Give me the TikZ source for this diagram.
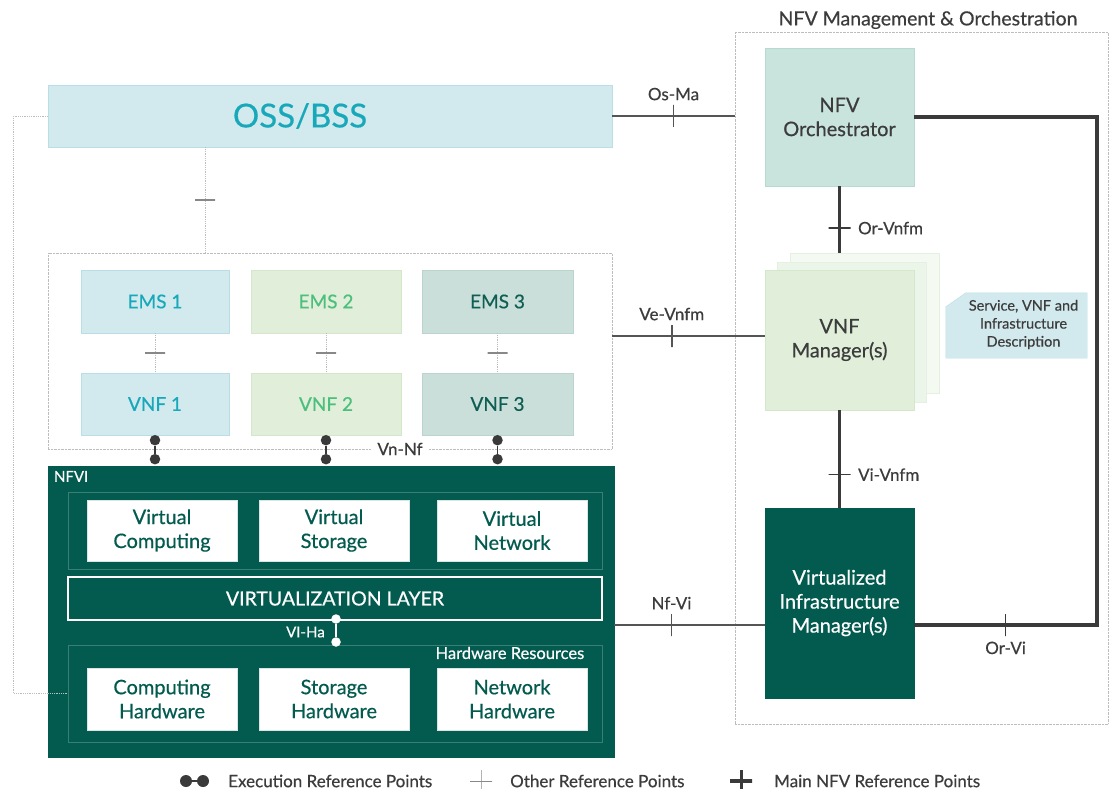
\documentclass[tikz,border=0pt]{standalone}
\usepackage{fontspec}
\setmainfont{Lato}[FakeBold=0.5]
\usetikzlibrary{calc,positioning}

\definecolor{NfviGreen}{HTML}{035B4F}
\definecolor{OssBlue}{HTML}{D2EAEE}
\definecolor{OssEdge}{HTML}{B8DFE6}
\definecolor{OssText}{HTML}{17A9BA}
\definecolor{VnfGreen}{HTML}{E0EEDA}
\definecolor{VnfEdge}{HTML}{D3E7CB}
\definecolor{VnfText}{HTML}{4CBF7D}
\definecolor{EmsTeal}{HTML}{CADFD9}
\definecolor{EmsEdge}{HTML}{BBD5CE}
\definecolor{EmsText}{HTML}{0F5E54}
\definecolor{OrchFill}{HTML}{C8E4DD}
\definecolor{OrchEdge}{HTML}{B6D9D0}
\definecolor{LineGray}{HTML}{555555}
\definecolor{MainLine}{HTML}{3A3A3A}
\definecolor{DotGray}{HTML}{BDBDBD}
\definecolor{TextGray}{HTML}{3C3C3C}

\newcommand{\pxfont}[2]{\fontsize{#1}{#2}\selectfont}

\tikzset{
  px/.style 2 args={minimum width=#1pt, minimum height=#2pt},
  plainbox/.style={rectangle, inner sep=0pt, align=center},
  ossbox/.style={plainbox, fill=OssBlue, draw=OssEdge, text=OssText, font=\pxfont{19}{24}},
  greenbox/.style={plainbox, fill=VnfGreen, draw=VnfEdge, text=VnfText, font=\pxfont{19}{24}},
  tealbox/.style={plainbox, fill=EmsTeal, draw=EmsEdge, text=EmsText, font=\pxfont{19}{24}},
  whitebox/.style={plainbox, fill=white, draw=white!85!NfviGreen, text=NfviGreen, font=\pxfont{20}{24}},
  groupbox/.style={plainbox, draw=DotGray, densely dotted},
  innerbox/.style={plainbox, draw=white!22!NfviGreen, line width=0.8pt},
  darkbox/.style={plainbox, fill=NfviGreen, draw=NfviGreen, text=white, font=\pxfont{20}{24}},
  pagebox/.style={plainbox, draw=VnfEdge!60},
  lbl/.style={inner sep=1pt, text=TextGray, font=\pxfont{17}{20}},
  refline/.style={draw=LineGray, line width=1.8pt},
  mainline/.style={draw=MainLine, line width=3.6pt},
  dotline/.style={draw=DotGray, densely dotted, line width=0.8pt},
  vtick/.style={draw=#1, solid, line width=1.6pt, minimum width=0pt, minimum height=22pt, inner sep=0pt, shape=rectangle},
  htick/.style={draw=#1, solid, line width=1.6pt, minimum width=22pt, minimum height=0pt, inner sep=0pt, shape=rectangle},
  xdot/.style={circle, fill=#1, inner sep=0pt, minimum size=10.5pt},
}

\begin{document}
\begin{tikzpicture}[x=1pt, y=-1pt]
\useasboundingbox (0,0) rectangle (1110,789);

% management & orchestration frame
\node[groupbox, px={373}{692}] (mano) at (921.5,378) {};
\node[lbl, font=\pxfont{19.5}{22}] (manolbl) at (928,20) {NFV Management \& Orchestration};

% OSS/BSS
\node[ossbox, px={564}{62}] (oss) at (330,116) {};
\node[text=OssText, font=\pxfont{33}{36}] (osslbl) at (300,116) {OSS/BSS};

% EMS / VNF group
\node[groupbox, px={564}{196}] (vnfgroup) at (330,351) {};
\node[ossbox, px={148}{63}] (ems1) at (155,301.5) {EMS 1};
\node[greenbox, px={150}{63}] (ems2) at (326,301.5) {EMS 2};
\node[tealbox, px={151}{63}] (ems3) at (497.5,301.5) {EMS 3};
\node[ossbox, px={148}{62}] (vnf1) at (155,404) {VNF 1};
\node[greenbox, px={150}{62}] (vnf2) at (326,404) {VNF 2};
\node[tealbox, px={151}{62}] (vnf3) at (497.5,404) {VNF 3};

\foreach \i in {1,2,3}{
  \draw[dotline] (ems\i.south) -- (vnf\i.north) node[htick=LineGray!70, midway, line width=1.2pt, minimum width=20pt] {};
}

% NFVI
\node[darkbox, px={566}{291}] (nfvi) at (331,611.5) {};
\node[anchor=north west, inner sep=0pt, text=white, font=\pxfont{15}{17}] (nfvilbl) at ($(nfvi.north west)+(6,5)$) {NFVI};
\node[innerbox, px={534}{77}] (virtbox) at (335,530.5) {};
\node[whitebox, px={150}{61}] (vcomp) at (162,530.5) {Virtual\\Computing};
\node[whitebox, px={150}{61}] (vstor) at (334,530.5) {Virtual\\Storage};
\node[whitebox, px={150}{61}] (vnet) at (512,530.5) {Virtual\\Network};
\node[darkbox, px={534}{43}, draw=white, line width=1.4pt, font=\pxfont{19.5}{22}] (vlayer) at (335,598.5) {VIRTUALIZATION LAYER};
\node[innerbox, px={534}{97}] (hwbox) at (335,693.5) {};
\node[anchor=north east, inner sep=0pt, text=white, font=\pxfont{16.5}{18}] (hwlbl) at ($(hwbox.north east)+(-18,2)$) {Hardware Resources};
\node[whitebox, px={150}{62}] (chw) at (162,699) {Computing\\Hardware};
\node[whitebox, px={150}{62}] (shw) at (334,699) {Storage\\Hardware};
\node[whitebox, px={150}{62}] (nhw) at (512,699) {Network\\Hardware};

% VI-Ha
\node[xdot=white, minimum size=9.5pt] (viha1) at (336,619) {};
\node[xdot=white, minimum size=9.5pt] (viha2) at (336,642) {};
\draw[white, line width=1.6pt] (viha1) -- (viha2);
\node[anchor=east, inner sep=0pt, text=white, font=\pxfont{15}{17}] (vihalbl) at (325,632) {VI-Ha};

% Vn-Nf execution points
\node[lbl, fill=white, inner xsep=6pt] (vnnf) at (400,449) {Vn-Nf};
\foreach \i in {1,2,3}{
  \node[xdot=MainLine] (exa\i) at ($(vnf\i.south)+(0,5)$) {};
  \node[xdot=MainLine] (exb\i) at ($(vnf\i.south)+(0,24)$) {};
  \draw[MainLine, line width=1.8pt] (exa\i) -- (exb\i);
}

% OSS links
\draw[dotline] ($(oss.south)+(-125,0)$) -- ($(vnfgroup.north)+(-125,0)$)
  node[htick=LineGray!70, midway, line width=1.2pt, minimum width=20pt] {};
\draw[dotline] (oss.west) -- ++(-34,0) |- (hwbox.west);

% MANO blocks
\node[plainbox, px={149}{138}, fill=OrchFill, draw=OrchEdge, text=TextGray, font=\pxfont{20}{24}] (orch) at (839.5,117) {NFV\\Orchestrator};

\draw[mainline] (orch.south) -- (839.5,270)
  node[htick=MainLine, midway] (orvnfmtick) {}
  node[lbl, anchor=west, right=4pt of orvnfmtick] {Or-Vnfm};

\node[pagebox, px={149}{140}, fill=VnfGreen!35] (page2) at (864.5,323) {};
\node[pagebox, px={149}{140}, fill=VnfGreen!60] (page1) at (852,332) {};
\node[plainbox, px={149}{140}, fill=VnfGreen, draw=VnfEdge, text=TextGray, font=\pxfont{20}{24}] (vnfm) at (839.5,340) {VNF\\Manager(s)};

\node[darkbox, px={149}{190}] (vim) at (839.5,603) {Virtualized\\Infrastructure\\Manager(s)};

% descriptor
\node[plainbox, px={141}{65}] (desc) at (1016.5,325.5) {};
\fill[OssBlue, draw=OssEdge] (desc.south west) -- ($(desc.north west)+(0,14)$) -- ($(desc.north west)+(20,0)$)
  -- (desc.north east) -- (desc.south east) -- cycle;
\node[plainbox, text=TextGray, font=\pxfont{14.5}{18}] (desctxt) at ($(desc.center)+(7,-1)$) {Service, VNF and\\Infrastructure\\Description};

% reference points
\coordinate (vevnfm) at ($(vnfm.west)+(0,-4)$);
\coordinate (nfvi-vim) at ($(vim.west)+(0,22)$);
\coordinate (orvi) at ($(vim.east)+(0,22)$);

\draw[refline] (oss.east) -- (oss.east -| mano.west)
  node[vtick=LineGray, midway] (osmatick) {}
  node[lbl, above=2pt of osmatick] {Os-Ma};

\draw[refline] (vevnfm -| vnfgroup.east) -- (vevnfm)
  node[vtick=LineGray, pos=.39] (vevnfmtick) {}
  node[lbl, above=2pt of vevnfmtick] {Ve-Vnfm};

\draw[refline] (nfvi-vim -| nfvi.east) -- (nfvi-vim)
  node[vtick=LineGray, pos=.38] (nfvitick) {}
  node[lbl, above=2pt of nfvitick] {Nf-Vi};

\draw[mainline] (vnfm.south) -- (vim.north)
  node[htick=MainLine, pos=.66] (vivnfmtick) {}
  node[lbl, anchor=west, right=4pt of vivnfmtick] {Vi-Vnfm};

\coordinate (rail) at (1097,0);
\draw[mainline] (orch.east) -- (orch.east -| rail) |- (orvi)
  node[vtick=MainLine, pos=.75, line width=1.6pt] (orvitick) {}
  node[lbl, below=2pt of orvitick] {Or-Vi};

% legend
\node[xdot=MainLine, minimum size=12pt] (lgd1) at (186,781) {};
\node[xdot=MainLine, minimum size=12pt] (lgd2) at (203,781) {};
\draw[MainLine, line width=2pt] (lgd1) -- (lgd2);
\node[lbl, anchor=west] (lgdexec) at (227,781) {Execution Reference Points};

\node[vtick=LineGray!70, line width=1pt] (lgdthin) at (481,781) {};
\node[htick=LineGray!70, line width=1pt] at (481,781) {};
\node[lbl, anchor=west] (lgdother) at (509,781) {Other Reference Points};

\node[vtick=MainLine, line width=3pt] (lgdmain) at (741,781) {};
\node[htick=MainLine, line width=3.6pt] at (741,781) {};
\node[lbl, anchor=west] (lgdmainlbl) at (773,781) {Main NFV Reference Points};
\end{tikzpicture}
\end{document}
